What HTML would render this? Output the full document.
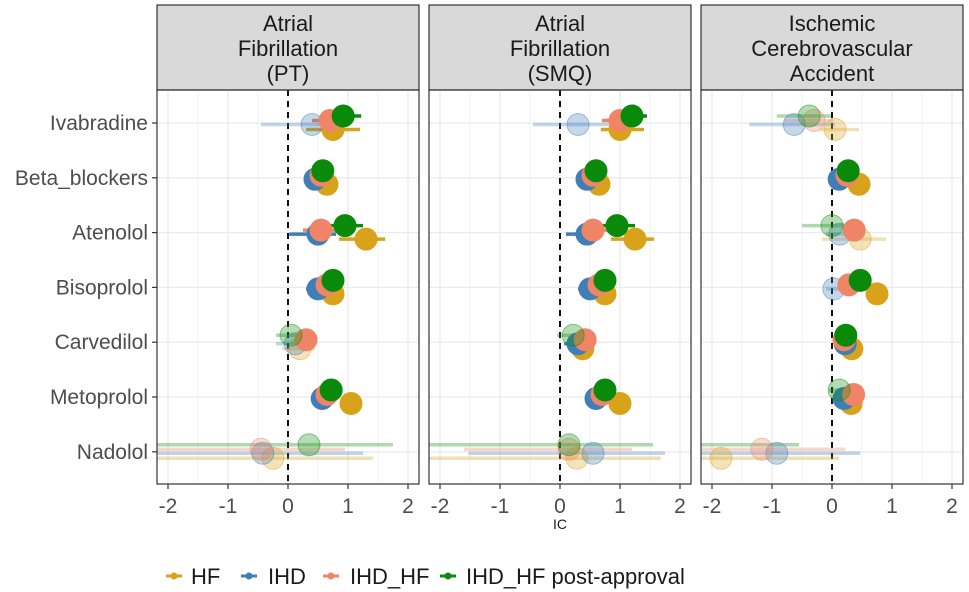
<!DOCTYPE html>
<html><head><meta charset="utf-8"><style>
html,body{margin:0;padding:0;background:#fff;}
svg{display:block;font-family:"Liberation Sans",Arial,sans-serif;}
</style></head><body>
<svg id="chart" width="969" height="592" viewBox="0 0 969 592"></svg>
<script>
const drugs=["Ivabradine","Beta_blockers","Atenolol","Bisoprolol","Carvedilol","Metoprolol","Nadolol"];
const panelTitles=[["Atrial","Fibrillation","(PT)"],["Atrial","Fibrillation","(SMQ)"],["Ischemic","Cerebrovascular","Accident"]];
const seriesNames=["HF","IHD","IHD_HF","IHD_HF post-approval"];
const seriesColors=["#D9A21B","#3F7FB8","#F08466","#0A8A0A"];
const xTicks=[-2,-1,0,1,2];
// values [point, lo, hi] per panel, per series, per drug
const p1HF=[[0.75,0.3,1.2],[0.65,0.55,0.75],[1.3,0.85,1.62],[0.75,0.65,0.85],[0.2,-0.1,0.45],[1.05,0.95,1.15],[-0.25,-2.3,1.42]];
const p1IHD=[[0.4,-0.45,1.0],[0.45,0.35,0.55],[0.5,0.02,0.8],[0.5,0.3,0.7],[0.12,-0.2,0.4],[0.57,0.47,0.67],[-0.42,-2.3,1.25]];
const p1IHDHF=[[0.7,0.4,1.0],[0.55,0.45,0.65],[0.55,0.25,0.85],[0.65,0.55,0.75],[0.3,0.15,0.45],[0.65,0.55,0.75],[-0.45,-2.3,0.95]];
const p1Post=[[0.92,0.55,1.22],[0.58,0.48,0.68],[0.95,0.6,1.25],[0.75,0.65,0.85],[0.05,-0.2,0.3],[0.72,0.62,0.82],[0.35,-2.3,1.75]];
const p2HF=[[1.0,0.68,1.4],[0.65,0.55,0.75],[1.25,0.85,1.57],[0.75,0.65,0.85],[0.38,0.25,0.5],[1.0,0.9,1.1],[0.28,-2.3,1.68]];
const p2IHD=[[0.3,-0.45,1.0],[0.45,0.35,0.55],[0.45,0.1,0.7],[0.5,0.3,0.7],[0.3,0.07,0.5],[0.6,0.5,0.7],[0.55,-1.53,1.75]];
const p2IHDHF=[[1.0,0.7,1.3],[0.55,0.45,0.65],[0.55,0.3,0.85],[0.65,0.55,0.75],[0.42,0.3,0.55],[0.7,0.6,0.8],[0.15,-1.6,1.2]];
const p2Post=[[1.2,0.85,1.45],[0.6,0.5,0.7],[0.95,0.65,1.25],[0.75,0.65,0.85],[0.22,-0.05,0.45],[0.75,0.65,0.85],[0.15,-2.3,1.55]];
const p3HF=[[0.05,-0.2,0.45],[0.45,0.35,0.55],[0.47,-0.17,0.9],[0.75,0.65,0.85],[0.33,0.23,0.43],[0.32,0.22,0.42],[-1.85,-2.3,0.12]];
const p3IHD=[[-0.63,-1.38,0.05],[0.12,0.02,0.22],[0.13,-0.1,0.35],[0.03,-0.1,0.15],[0.22,0.12,0.32],[0.2,0.1,0.3],[-0.92,-2.3,0.47]];
const p3IHDHF=[[-0.3,-0.8,0.02],[0.25,0.15,0.35],[0.37,0.2,0.55],[0.28,0.18,0.38],[0.2,0.1,0.3],[0.36,0.26,0.46],[-1.17,-2.3,0.22]];
const p3Post=[[-0.38,-0.92,-0.02],[0.27,0.17,0.37],[0.0,-0.5,0.2],[0.47,0.37,0.57],[0.23,0.13,0.33],[0.12,-0.05,0.3],[-2.6,-2.3,-0.55]];
const panels=[[p1HF,p1IHD,p1IHDHF,p1Post],[p2HF,p2IHD,p2IHDHF,p2Post],[p3HF,p3IHD,p3IHDHF,p3Post]];

const NS="http://www.w3.org/2000/svg";
const svg=document.getElementById('chart');
function mk(tag,attrs,parent){const e=document.createElementNS(NS,tag);for(const k in attrs)e.setAttribute(k,attrs[k]);(parent||svg).appendChild(e);return e;}
const panelLeft=[157,429,701],panelW=262,plotTop=90,plotBot=484,headTop=5;
const rowY0=123,rowStep=54.8;
const dodge=[6.5,1.5,-2.5,-7];
function xs(p,v){return panelLeft[p]+131+v*60;}
function ys(i,s){return rowY0+i*rowStep+dodge[s];}
function isFaded(v){return v[1]<=0;}

const defs=mk('defs',{});
panels.forEach((_,p)=>{const c=mk('clipPath',{id:'clip'+p},defs);mk('rect',{x:panelLeft[p],y:plotTop,width:panelW,height:plotBot-plotTop},c);});

panels.forEach((pd,p)=>{
  const g=mk('g',{});
  
  
  const h=mk('rect',{x:panelLeft[p],y:headTop,width:panelW,height:plotTop-headTop,fill:'#D9D9D9',stroke:'#333','stroke-width':1.2},g);
  
  
  panelTitles[p].forEach((t,k)=>{const tx=mk('text',{x:panelLeft[p]+panelW/2,y:31+k*25,'font-size':22,'text-anchor':'middle',fill:'#1a1a1a'},g);tx.textContent=t;
    
    });
  for(let v=-2;v<=2.01;v+=0.5){mk('line',{x1:xs(p,v),x2:xs(p,v),y1:plotTop,y2:plotBot,stroke:'#EBEBEB','stroke-width':Number.isInteger(v)?1.3:0.7},g);}
  drugs.forEach((d,i)=>{mk('line',{x1:panelLeft[p],x2:panelLeft[p]+panelW,y1:rowY0+i*rowStep,y2:rowY0+i*rowStep,stroke:'#EBEBEB','stroke-width':1.3},g);});
  const z=mk('line',{x1:xs(p,0),x2:xs(p,0),y1:plotTop,y2:plotBot,stroke:'#111','stroke-width':2,'stroke-dasharray':'6,5'},g);
  
  
  const cg=mk('g',{'clip-path':'url(#clip'+p+')'},g);
  pd.forEach((ser,s)=>{
    ser.forEach((v,i)=>{
      const op=isFaded(v)?0.32:1;
      const y=ys(i,s);
      const ln=mk('line',{x1:xs(p,v[1]),x2:xs(p,v[2]),y1:y,y2:y,stroke:seriesColors[s],'stroke-width':3.5,opacity:op},cg);
      
      
    });
  });
  pd.forEach((ser,s)=>{
    ser.forEach((v,i)=>{
      const faded=isFaded(v);
      const c=mk('circle',{cx:xs(p,v[0]),cy:ys(i,s),r:11,fill:seriesColors[s],'fill-opacity':faded?0.3:1,stroke:seriesColors[s],'stroke-opacity':faded?0.45:1,'stroke-width':1},cg);
      
      
    });
  });
  mk('rect',{x:panelLeft[p],y:plotTop,width:panelW,height:plotBot-plotTop,fill:'none',stroke:'#333','stroke-width':1.2},g);
  xTicks.forEach(t=>{mk('line',{x1:xs(p,t),x2:xs(p,t),y1:plotBot,y2:plotBot+5,stroke:'#333','stroke-width':1.2},g);
    const tx=mk('text',{x:xs(p,t),y:513,'font-size':21,'text-anchor':'middle',fill:'#4d4d4d'},g);tx.textContent=t;
    
    });
});
drugs.forEach((d,i)=>{const y=rowY0+i*rowStep;
  mk('line',{x1:152,x2:157,y1:y,y2:y,stroke:'#333','stroke-width':1.2});
  const t=mk('text',{x:148,y:y+7,'font-size':21,'text-anchor':'end',fill:'#4d4d4d'});t.textContent=d;
  
  });
const ic=mk('text',{x:560,y:529,'font-size':14,'text-anchor':'middle',fill:'#1a1a1a'});ic.textContent='IC';


const legKeyX=[166,241,323,440],legTextX=[191,268,350,466];
seriesNames.forEach((n,s)=>{
  const g=mk('g',{});
  
  
  mk('line',{x1:legKeyX[s],x2:legKeyX[s]+16,y1:576,y2:576,stroke:seriesColors[s],'stroke-width':3},g);
  mk('circle',{cx:legKeyX[s]+8,cy:576,r:3.5,fill:seriesColors[s]},g);
  const t=mk('text',{x:legTextX[s],y:584,'font-size':22,fill:'#1a1a1a'},g);t.textContent=n;
});
</script>
</body></html>
